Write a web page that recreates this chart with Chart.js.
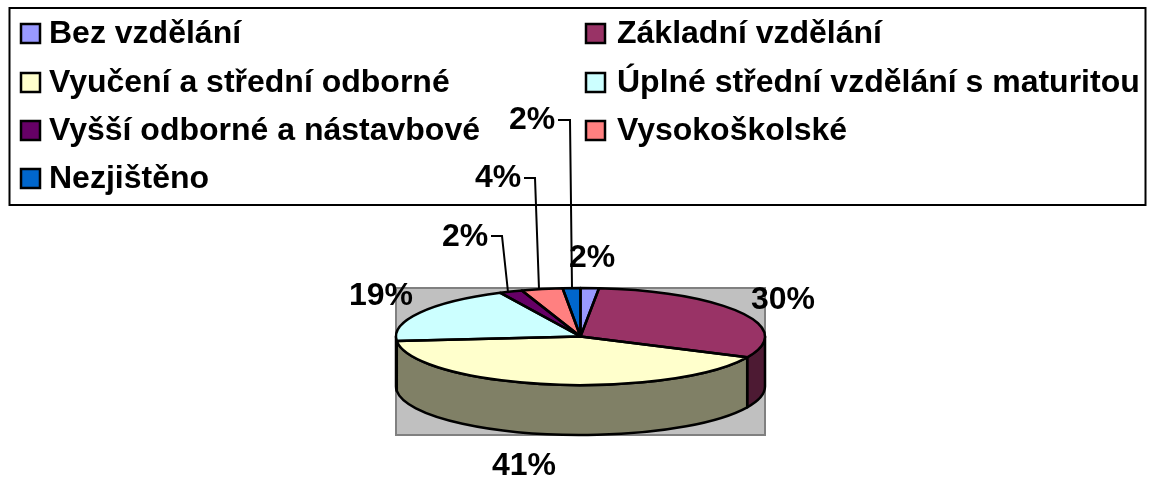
<!DOCTYPE html>
<html>
<head>
<meta charset="utf-8">
<style>html,body{margin:0;padding:0;background:#fff}canvas{display:block}</style>
<script src="https://cdn.jsdelivr.net/npm/chart.js@4"></script>
</head>
<body>
<canvas id="c" width="1151" height="480"></canvas>
<script>
const categories = ['Bez vzdělání','Základní vzdělání','Vyučení a střední odborné','Úplné střední vzdělání s maturitou','Vyšší odborné a nástavbové','Vysokoškolské','Nezjištěno'];
const shares = [1.6,30.45,41.49,19.31,2.0,3.6,1.55];
const sliceColors = ['#9999FF','#993366','#FFFFCC','#CCFFFF','#660066','#FF8080','#0066CC'];
const wallColors = ['#4D4D80','#4D1A33','#808066','#668080','#330033','#804040','#003366'];

const FONT = 'bold 32px "Liberation Sans", Arial, sans-serif';
const geo = {left:396,right:765,top:288,ellipseBottom:385,bottom:435};
const legendBox = {x:9.5,y:8,w:1136,h:197};
const legendCols = [{box:21,text:49},{box:586,text:617}];
const legendRows = [33,82,130,178];
const labelCenters = [[592,258],[783,300],[524,466],[381,296],[465,237],[498,178],[532,120]];
const leaders = {
  4:[[491,236],[502,236],[508,292]],
  5:[[524,178],[535,178],[539,289]],
  6:[[558,120],[570,120],[572,288]]
};

const pie3d = {
  id:'pie3d',
  beforeDatasetsDraw(chart){
    const ctx = chart.ctx, arcs = chart.getDatasetMeta(0).data;
    ctx.save();
    ctx.fillStyle = '#C0C0C0';
    ctx.strokeStyle = '#808080';
    ctx.lineWidth = 2;
    ctx.beginPath();
    ctx.rect(geo.left,geo.top,geo.right-geo.left,geo.bottom-geo.top);
    ctx.fill(); ctx.stroke();
    const rx = (geo.right-geo.left)/2, depth = geo.bottom-geo.ellipseBottom;
    ctx.strokeStyle = '#000'; ctx.lineWidth = 2.5; ctx.lineJoin = 'round';
    arcs.forEach((a,i)=>{
      const p = a.getProps(['x','y','startAngle','endAngle','outerRadius']);
      const s = Math.max(p.startAngle,0), e = Math.min(p.endAngle,Math.PI);
      if (e <= s) return;
      ctx.beginPath();
      ctx.ellipse(p.x,p.y,rx,p.outerRadius,0,s,e);
      ctx.ellipse(p.x,p.y+depth,rx,p.outerRadius,0,e,s,true);
      ctx.closePath();
      ctx.fillStyle = wallColors[i];
      ctx.fill(); ctx.stroke();
    });
    ctx.restore();
    const a0 = arcs[0];
    ctx.save();
    ctx.translate(a0.x,0);
    ctx.scale(rx/a0.outerRadius,1);
    ctx.translate(-a0.x,0);
  },
  afterDatasetsDraw(chart){
    const ctx = chart.ctx, arcs = chart.getDatasetMeta(0).data;
    ctx.restore();
    const rx = (geo.right-geo.left)/2;
    ctx.save();
    ctx.strokeStyle = '#000'; ctx.lineWidth = 2.5; ctx.lineJoin = 'round';
    arcs.forEach(a=>{
      const p = a.getProps(['x','y','startAngle','endAngle','outerRadius']);
      ctx.beginPath();
      ctx.moveTo(p.x,p.y);
      ctx.ellipse(p.x,p.y,rx,p.outerRadius,0,p.startAngle,p.endAngle);
      ctx.closePath();
      ctx.stroke();
    });
    ctx.restore();
  },
  afterDraw(chart){
    const ctx = chart.ctx;
    ctx.save();
    // legend
    ctx.strokeStyle = '#000'; ctx.lineWidth = 2;
    ctx.strokeRect(legendBox.x,legendBox.y,legendBox.w,legendBox.h);
    ctx.font = FONT; ctx.textBaseline = 'middle'; ctx.textAlign = 'left';
    categories.forEach((name,i)=>{
      const col = legendCols[i%2], y = legendRows[Math.floor(i/2)];
      ctx.lineWidth = 2.5;
      ctx.fillStyle = sliceColors[i];
      ctx.fillRect(col.box,y-9,19,19);
      ctx.strokeRect(col.box,y-9,19,19);
      ctx.fillStyle = '#000';
      ctx.fillText(name,col.text,y+1);
    });
    // leader lines
    ctx.lineWidth = 2;
    Object.values(leaders).forEach(pts=>{
      ctx.beginPath();
      pts.forEach((q,k)=>k?ctx.lineTo(q[0],q[1]):ctx.moveTo(q[0],q[1]));
      ctx.stroke();
    });
    // percentage labels
    ctx.textAlign = 'center';
    ctx.fillStyle = '#000';
    const total = shares.reduce((a,b)=>a+b,0);
    shares.forEach((v,i)=>{
      ctx.fillText(Math.round(v/total*100)+'%',labelCenters[i][0],labelCenters[i][1]);
    });
    ctx.restore();
  }
};

new Chart(document.getElementById('c'),{
  type:'pie',
  data:{labels:categories,datasets:[{data:shares,backgroundColor:sliceColors,borderWidth:0,clip:false}]},
  options:{
    responsive:false,
    animation:false,
    layout:{padding:{left:geo.left,right:1151-geo.right,top:geo.top,bottom:480-geo.ellipseBottom}},
    plugins:{legend:{display:false},tooltip:{enabled:false}}
  },
  plugins:[pie3d]
});
</script>
</body>
</html>
